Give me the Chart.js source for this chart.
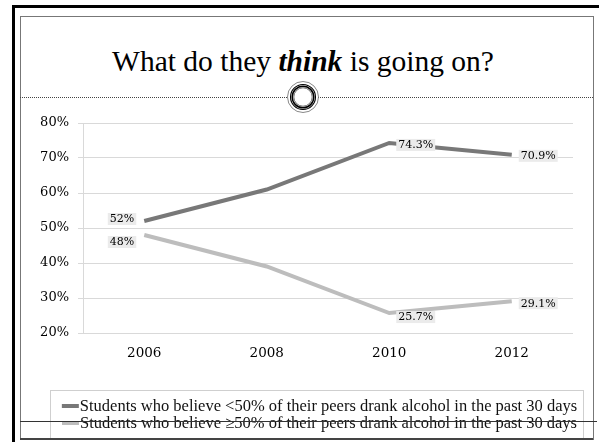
<!DOCTYPE html>
<html><head><meta charset="utf-8">
<script src="https://cdn.jsdelivr.net/npm/chart.js@4.4.1/dist/chart.umd.min.js"></script>
<style>
html,body{margin:0;padding:0;background:#fff;width:599px;height:442px;overflow:hidden;position:relative}
.outer{position:absolute;left:12px;top:5px;width:700px;height:600px;border-left:3px solid #000;border-top:3px solid #000}
.inner{position:absolute;left:20px;top:16px;width:572px;height:422px;border:1px solid #777}
.title{position:absolute;left:14px;width:578px;top:44px;line-height:34px;text-align:center;font-family:"Liberation Serif",serif;font-size:29.5px;color:#000;white-space:nowrap}
.title b{font-style:italic;font-weight:bold}
.dots{position:absolute;left:20px;width:573px;top:97px;height:0;border-top:1px dotted #444}
.orn{position:absolute;left:284px;top:78px;width:38px;height:38px}
.wrap{position:absolute;left:22px;top:100px;width:570px;height:340px}
.cross{position:absolute;left:20px;width:577px;top:421px;height:0;border-top:1px solid #333;z-index:5}
.bottom{position:absolute;left:20px;width:573px;top:438px;height:0;border-top:2px solid #444;z-index:5}
</style></head>
<body>
<div class="outer"></div>
<div class="inner"></div>
<div class="title">What do they <b>think</b> is going on?</div>
<div class="dots"></div>
<div class="wrap"><canvas id="c" width="570" height="340"></canvas></div>
<svg class="orn" viewBox="0 0 38 38">
  <circle cx="19" cy="19" r="15.5" fill="#fff" stroke="#555" stroke-width="0.7"/>
  <circle cx="19" cy="19" r="12.5" fill="none" stroke="#000" stroke-width="1.1"/>
  <circle cx="19" cy="19" r="10.8" fill="none" stroke="#000" stroke-width="1.5"/>
  <circle cx="19" cy="19" r="9.2" fill="none" stroke="#333" stroke-width="0.7"/>
</svg>
<div class="cross"></div>
<div class="bottom"></div>
<script>
const years = ['2006', '2008', '2010', '2012'];
const below50 = [52, 61, 74.3, 70.9];
const atLeast50 = [48, 39, 25.7, 29.1];
const labelled = [true, false, true, true];
const seriesNames = [
  'Students who believe <50% of their peers drank alcohol in the past 30 days',
  'Students who believe \u226550% of their peers drank alcohol in the past 30 days'
];
const yMin = 20, yMax = 80, yStep = 10;

const SERIF = '"Liberation Serif", serif';
const SERIF2 = '"DejaVu Serif", serif';

function fmt(v){ return Number.isInteger(v) ? v + '%' : v.toFixed(1) + '%'; }

const placements = [
  [['left', -2], null, ['right', 2], ['right', 1]],
  [['left', 7], null, ['right', 4], ['right', 2]]
];

const dataLabels = {
  id: 'dataLabels',
  afterDatasetsDraw(chart){
    const ctx = chart.ctx;
    ctx.save();
    ctx.font = '11px ' + SERIF2;
    ctx.textBaseline = 'middle';
    chart.data.datasets.forEach((ds, di) => {
      const meta = chart.getDatasetMeta(di);
      meta.data.forEach((pt, i) => {
        if (!labelled[i]) return;
        const pl = placements[di][i];
        const txt = fmt(ds.data[i]);
        const w = ctx.measureText(txt).width + 4;
        const h = 12;
        const cy = pt.y + pl[1];
        const bx = pl[0] === 'right' ? pt.x + 7 : pt.x - 8 - w;
        ctx.fillStyle = '#ebebeb';
        ctx.fillRect(bx, cy - h/2, w, h);
        ctx.fillStyle = '#000';
        ctx.textAlign = 'left';
        ctx.fillText(txt, bx + 2, cy + 0.5);
      });
    });
    ctx.restore();
  }
};

const legendBox = {
  id: 'legendBox',
  afterDraw(chart){
    const ctx = chart.ctx;
    const bx = 28, by = 290, bw = 533, bh = 48;
    ctx.save();
    ctx.strokeStyle = '#cfcfcf';
    ctx.lineWidth = 1;
    ctx.strokeRect(bx + 0.5, by + 0.5, bw, bh);
    ctx.font = '16.5px ' + SERIF;
    ctx.textBaseline = 'middle';
    ctx.textAlign = 'left';
    chart.data.datasets.forEach((ds, i) => {
      const y = by + 16 + i * 17;
      const tw = ctx.measureText(ds.label).width;
      const total = 17 + 1 + tw;
      const x0 = bx + (bw - total) / 2 + 3;
      ctx.strokeStyle = ds.borderColor;
      ctx.lineWidth = 4;
      ctx.beginPath(); ctx.moveTo(x0, y); ctx.lineTo(x0 + 17, y); ctx.stroke();
      ctx.fillStyle = '#111';
      ctx.fillText(ds.label, x0 + 18, y + 1);
    });
    ctx.restore();
  }
};

new Chart(document.getElementById('c'), {
  type: 'line',
  data: {
    labels: years,
    datasets: [
      { label: seriesNames[0], data: below50, borderColor: '#787878', backgroundColor: '#787878', borderWidth: 4, pointRadius: 0, tension: 0 },
      { label: seriesNames[1], data: atLeast50, borderColor: '#bdbdbd', backgroundColor: '#bdbdbd', borderWidth: 4, pointRadius: 0, tension: 0 }
    ]
  },
  options: {
    responsive: false,
    animation: false,
    devicePixelRatio: 1,
    layout: { padding: { left: 0, right: 19, top: 23, bottom: 77 } },
    plugins: { legend: { display: false }, tooltip: { enabled: false } },
    scales: {
      x: {
        offset: true,
        grid: { display: false, drawTicks: false },
        border: { display: false },
        ticks: { color: '#000', font: { family: SERIF2, size: 13.5 }, padding: 12 },
        afterFit(s){ s.height = 30; }
      },
      y: {
        min: yMin, max: yMax,
        ticks: { stepSize: yStep, color: '#000', font: { family: SERIF2, size: 13 }, padding: 9, callback: v => v + '%' },
        grid: { color: '#d9d9d9', lineWidth: 1, tickLength: 5 },
        border: { display: true, color: '#d9d9d9' },
        afterFit(s){ s.width = 61; }
      }
    }
  },
  plugins: [dataLabels, legendBox]
});
</script>
</body></html>
